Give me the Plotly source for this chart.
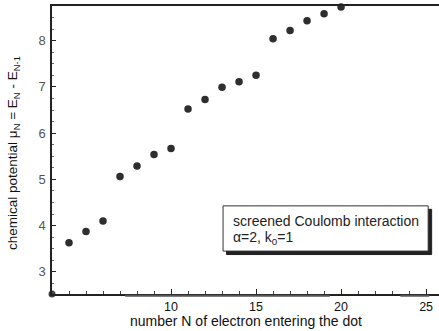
import plotly.graph_objects as go

N = [4, 5, 6, 7, 8, 9, 10, 11, 12, 13, 14, 15, 16, 17, 18, 19, 20]
mu = [3.63, 3.87, 4.10, 5.06, 5.29, 5.54, 5.67, 6.52, 6.73, 6.99, 7.11, 7.25, 8.04, 8.22, 8.43, 8.58, 8.73]
x_ticks = [10, 15, 20, 25]
y_ticks = [3, 4, 5, 6, 7, 8]
x_range = [3, 25.76]
y_range = [2.52, 8.75]

fig = go.Figure()
fig.add_trace(go.Scatter(x=N, y=mu, mode="markers",
                         marker=dict(size=7.5, color="#2e2e2e"),
                         cliponaxis=False, showlegend=False))
fig.add_trace(go.Scatter(x=[x_range[0]], y=[y_range[0]], mode="markers",
                         marker=dict(size=7, color="#444444"),
                         cliponaxis=False, showlegend=False))

font = "Liberation Sans, Arial, sans-serif"
fig.update_layout(
    width=439, height=331,
    margin=dict(l=52, r=0, t=6, b=37),
    paper_bgcolor="white", plot_bgcolor="white",
    font=dict(family=font, size=12, color="#111111"),
    xaxis=dict(range=x_range, tickvals=x_ticks, ticks="inside", ticklen=5,
               tickcolor="#222", showgrid=False, zeroline=False,
               showline=True, linecolor="#222", linewidth=1.5, mirror=True,
               tickfont=dict(size=12.5, color="#111"), ticklabelstandoff=0,
               minor=dict(dtick=1, tick0=0, ticks="inside", ticklen=3, tickcolor="#444")),
    yaxis=dict(range=y_range, tickvals=y_ticks, ticks="inside", ticklen=4,
               tickcolor="#222", showgrid=False, zeroline=False,
               showline=True, linecolor="#222", linewidth=1.5,
               tickfont=dict(size=13, color="#555"), ticklabelstandoff=2,
               minor=dict(dtick=0.25, tick0=0, ticks="inside", ticklen=2, tickcolor="#666")),
)

# scan artifacts under x axis
for a, b in [(0.189, 0.718), (0.90, 0.975)]:
    fig.add_shape(type="line", xref="paper", yref="paper", x0=a, x1=b, y0=-0.006, y1=-0.006,
                  line=dict(color="#555", width=2))

# legend box with shadow
bx0, bx1, by0, by1 = 0.442, 0.972, 0.149, 0.306
fig.add_shape(type="rect", xref="paper", yref="paper",
              x0=bx0 + 0.009, x1=bx1 + 0.009, y0=by0 - 0.012, y1=by1 - 0.012,
              fillcolor="#222", line=dict(color="#222", width=1))
fig.add_shape(type="rect", xref="paper", yref="paper",
              x0=bx0, x1=bx1, y0=by0, y1=by1,
              fillcolor="white", line=dict(color="#333", width=1))
fig.add_annotation(xref="paper", yref="paper", x=0.462, y=0.252, xanchor="left",
                   yanchor="middle", showarrow=False, text="screened Coulomb interaction",
                   font=dict(size=14, color="#222"))
fig.add_annotation(xref="paper", yref="paper", x=0.462, y=0.196, xanchor="left",
                   yanchor="middle", showarrow=False, text="α=2, k<sub>0</sub>=1",
                   font=dict(size=14, color="#222"))

fig.add_annotation(xref="paper", yref="paper", x=-0.098, y=0.49, textangle=-90,
                   xanchor="center", yanchor="middle", showarrow=False,
                   text="chemical potential μ<sub>N</sub> = E<sub>N</sub> - E<sub>N-1</sub>",
                   font=dict(size=13.5, color="#111"))
fig.add_annotation(xref="paper", yref="paper", x=0.501, y=-0.095,
                   xanchor="center", yanchor="middle", showarrow=False,
                   text="number N of electron entering the dot",
                   font=dict(size=14, color="#111"))

fig.write_html("out.html")
